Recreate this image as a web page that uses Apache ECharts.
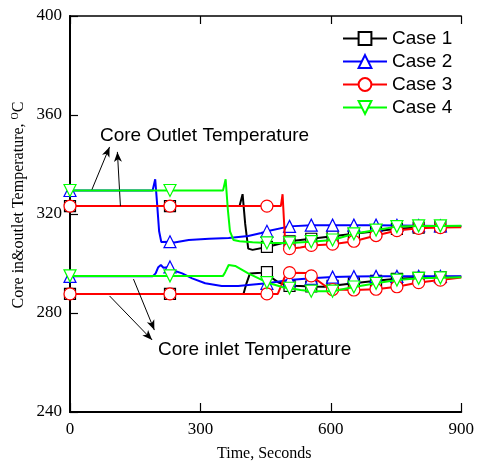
<!DOCTYPE html>
<html>
<head>
<meta charset="utf-8">
<script src="https://cdn.jsdelivr.net/npm/echarts@6/dist/echarts.min.js"></script>
<style>
html, body { margin: 0; padding: 0; background: #fff; }
#chart { width: 477px; height: 465px; }
</style>
</head>
<body>
<div id="chart"></div>
<script>
// Case names, colours and markers
const caseNames = ['Case 1', 'Case 2', 'Case 3', 'Case 4'];
const caseColors = ['#000000', '#0000ff', '#ff0000', '#00ff00'];
const caseSymbols = ['rect', 'triangle', 'circle', 'triangle'];
const caseSymbolRotate = [0, 0, 0, 180];

// times (s) where a marker is drawn
const markTimes = [0, 230, 453, 505, 555, 604, 653, 704, 752, 802, 852];

const xTicks = [0, 300, 600, 900];
const yTicks = [240, 280, 320, 360, 400];

// [time s, temperature C]
const case1Outlet = [[0,323.2],[230,323.2],[390,323.2],[397,328],[403,316],[410,306],[420,305.5],[453,306.7],[505,309],[555,310],[604,311],[653,312],[704,313],[752,314],[802,314.5],[852,315],[900,315.2]];
const case1Inlet = [[0,287.7],[230,287.7],[399,287.7],[406,292],[414,296],[440,296.3],[453,296.5],[466,294],[480,292.3],[497,291.3],[505,291],[530,290.9],[555,290.7],[585,290.6],[604,291],[653,292],[704,293],[752,293.8],[802,294.2],[852,294.5],[900,294.6]];

const case2Outlet = [[0,329.5],[190,329.5],[196,334],[200,325],[205,313],[210,308.7],[230,308.8],[240,308.5],[273,309.5],[320,310],[365,310.3],[410,311.1],[440,312.3],[453,313],[505,315],[555,315.5],[604,315.5],[653,315.5],[704,315.5],[752,315.4],[802,315.3],[852,315.2],[900,315]];
const case2Inlet = [[0,294.8],[190,294.8],[197,296],[203,298.5],[209,299.4],[215,298.3],[230,298.6],[235,297.4],[258,296],[281,294],[311,292],[349,290.9],[387,290.9],[410,291.3],[453,292],[505,293.3],[555,294],[604,294.5],[653,294.7],[704,294.8],[752,294.8],[802,294.8],[852,294.8],[900,294.8]];

const case3Outlet = [[0,323.2],[230,323.2],[453,323.2],[485,323.2],[489,328],[492,318],[496,305.5],[505,306],[530,306.5],[555,307.3],[604,307.8],[653,309],[704,311.3],[752,313.3],[802,314.2],[852,314.5],[900,314.6]];
const case3Inlet = [[0,287.7],[230,287.7],[453,287.7],[478,287.7],[488,292],[497,296],[505,296.3],[545,296.2],[555,295],[588,290.8],[604,289.5],[653,289.3],[704,289.6],[752,290.6],[802,292.3],[852,293.3],[900,294.3]];

const case4Outlet = [[0,329.5],[230,329.5],[352,329.5],[358,334],[363,322],[368,313],[376,309.5],[390,309],[420,308.6],[453,308.3],[505,308.3],[555,308.8],[604,309.5],[653,312],[704,313.5],[752,314.9],[802,315.2],[852,315.2],[900,315.3]];
const case4Inlet = [[0,295],[230,295],[352,295],[357,296.5],[365,299.4],[380,299],[395,297.5],[410,296],[440,293.5],[453,292.3],[490,290.4],[505,290],[530,289.3],[555,288.8],[604,288.8],[653,290.5],[704,292],[752,293.3],[802,294],[852,294.2],[900,294.4]];

const outletCurves = [case1Outlet, case2Outlet, case3Outlet, case4Outlet];
const inletCurves = [case1Inlet, case2Inlet, case3Inlet, case4Inlet];

// annotation arrows, [from, to] in data coords
const outletArrows = [[[50,329.7],[91,347.1]], [[116,323.2],[109,345.1]]];
const inletArrows = [[[146,293.7],[194,273.1]], [[91,286.9],[189,269.1]]];

const myChart = echarts.init(document.getElementById('chart'), null, { renderer: 'canvas' });

function withMarkers(points) {
    return points.map(function (p) {
        if (markTimes.indexOf(p[0]) >= 0) return { value: p };
        return { value: p, symbol: 'none' };
    });
}

const series = [];
for (let i = 0; i < 4; i++) {
    [outletCurves[i], inletCurves[i]].forEach(function (curve) {
        series.push({
            name: caseNames[i],
            type: 'line',
            data: withMarkers(curve),
            symbol: caseSymbols[i],
            symbolRotate: caseSymbolRotate[i],
            symbolSize: i === 0 ? 11 : 12,
            showAllSymbol: true,
            lineStyle: { color: caseColors[i], width: 2 },
            itemStyle: { color: '#ffffff', borderColor: caseColors[i], borderWidth: 1.2 },
            emphasis: { disabled: true },
            z: 2 + i
        });
    });
}

function arrowData(list) {
    return list.map(function (a) { return [{ coord: a[0] }, { coord: a[1] }]; });
}

series.push({
    name: 'arrows',
    type: 'line',
    data: [],
    markLine: {
        silent: true,
        symbol: ['none', 'arrow'],
        symbolSize: [6, 10],
        label: { show: false },
        lineStyle: { color: '#000', width: 1, type: 'solid' },
        data: arrowData(outletArrows).concat(arrowData(inletArrows))
    },
    z: 10
});

const option = {
    animation: false,
    grid: { left: 70, right: 12, top: 16, bottom: 53 },
    legend: {
        data: caseNames,
        orient: 'vertical',
        left: 337,
        top: 24,
        itemWidth: 44,
        itemHeight: 16,
        itemGap: 4,
        textStyle: { fontFamily: 'Liberation Sans', fontSize: 19, color: '#000' }
    },
    xAxis: [
        {
            type: 'value', min: xTicks[0], max: xTicks[xTicks.length - 1], interval: 300,
            axisLine: { lineStyle: { color: '#000', width: 2 } },
            axisTick: { inside: true, length: 9, lineStyle: { color: '#000', width: 1.2 } },
            axisLabel: { color: '#000', fontFamily: 'Liberation Serif', fontSize: 17, margin: 9 },
            splitLine: { show: false }
        },
        {
            type: 'value', position: 'top', min: xTicks[0], max: xTicks[xTicks.length - 1], interval: 300,
            axisLine: { show: true, lineStyle: { color: '#000', width: 1.5 } },
            axisTick: { inside: true, length: 8, lineStyle: { color: '#000', width: 1.2 } },
            axisLabel: { show: false },
            splitLine: { show: false }
        }
    ],
    yAxis: [
        {
            type: 'value', min: yTicks[0], max: yTicks[yTicks.length - 1], interval: 40,
            axisLine: { show: true, lineStyle: { color: '#000', width: 2 } },
            axisTick: { show: true, inside: true, length: 8, lineStyle: { color: '#000', width: 1.2 } },
            axisLabel: { color: '#000', fontFamily: 'Liberation Serif', fontSize: 17, margin: 8 },
            splitLine: { show: false }
        },
        {
            type: 'value', position: 'right', min: yTicks[0], max: yTicks[yTicks.length - 1], interval: 40,
            axisLine: { show: true, lineStyle: { color: '#000', width: 1.5 } },
            axisTick: { show: false },
            axisLabel: { show: false },
            splitLine: { show: false }
        }
    ],
    graphic: [
        {
            type: 'text', left: 100, top: 126,
            style: { text: 'Core Outlet Temperature', font: '19px "Liberation Sans"', fill: '#000' }
        },
        {
            type: 'text', left: 158, top: 340,
            style: { text: 'Core inlet Temperature', font: '19px "Liberation Sans"', fill: '#000' }
        },
        {
            type: 'text', left: 217, top: 446,
            style: { text: 'Time, Seconds', font: '16px "Liberation Serif"', fill: '#000' }
        },
        {
            type: 'text', x: 19, y: 205, rotation: Math.PI / 2,
            style: {
                text: 'Core in&outlet Temperature, {sup|O}C',
                font: '16px "Liberation Serif"', fill: '#000',
                align: 'center', verticalAlign: 'middle',
                rich: { sup: { fontSize: 10, fontFamily: 'Liberation Serif', verticalAlign: 'top', padding: [0, 0, 8, 0] } }
            }
        }
    ],
    series: series
};

myChart.setOption(option);
</script>
</body>
</html>
